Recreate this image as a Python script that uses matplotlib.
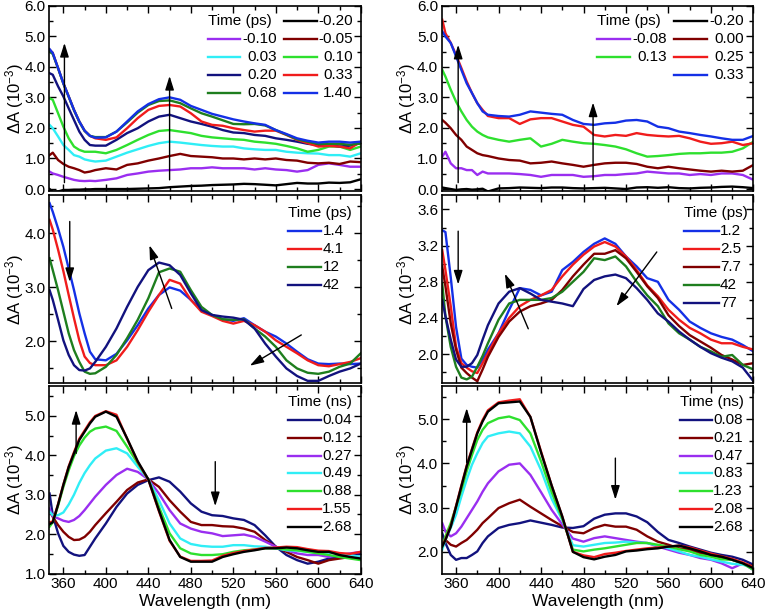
import matplotlib
matplotlib.use("Agg")
import matplotlib.pyplot as plt
from matplotlib.ticker import MultipleLocator, FormatStrFormatter

plt.rcParams["font.family"] = ["Liberation Sans", "DejaVu Sans"]
plt.rcParams["mathtext.fontset"] = "custom"
plt.rcParams["mathtext.rm"] = "Liberation Sans"
plt.rcParams["mathtext.default"] = "regular"

# wavelength grid (nm), shared by all spectra
WL = [347, 350, 355, 360, 365, 370, 375, 380, 385, 390,
      400, 410, 420, 430, 440, 450, 460, 470, 480, 490,
      500, 510, 520, 530, 540, 550, 560, 570, 580, 590,
      600, 610, 620, 630, 640]

# --- top left, early times (ps) ---
TL_LABELS = ["-0.20", "-0.10", "-0.05", "0.03", "0.10", "0.20", "0.33", "0.68", "1.40"]
TL_M020 = [0.00, -0.09, -0.08, -0.03, -0.03, -0.02, -0.02, -0.01, -0.01, 0.00,
           0.00, 0.00, 0.00, 0.01, 0.02, 0.03, 0.06, 0.08, 0.10, 0.11,
           0.13, 0.14, 0.15, 0.17, 0.16, 0.14, 0.12, 0.16, 0.20, 0.18,
           0.18, 0.21, 0.20, 0.22, 0.32]
TL_M010 = [0.57, 0.51, 0.46, 0.40, 0.35, 0.30, 0.27, 0.26, 0.27, 0.26,
           0.30, 0.35, 0.46, 0.51, 0.57, 0.60, 0.62, 0.64, 0.68, 0.68,
           0.71, 0.68, 0.68, 0.68, 0.64, 0.68, 0.64, 0.62, 0.57, 0.62,
           0.79, 0.84, 0.79, 0.73, 0.73]
TL_M005 = [1.11, 1.19, 0.95, 0.82, 0.73, 0.68, 0.62, 0.54, 0.57, 0.62,
           0.68, 0.64, 0.79, 0.84, 0.93, 1.00, 1.08, 1.15, 1.08, 1.06,
           1.04, 1.00, 1.00, 0.97, 1.00, 0.97, 1.00, 0.95, 0.93, 0.86,
           0.84, 0.86, 0.82, 0.90, 0.88]
TL_003 = [2.10, 1.99, 1.72, 1.44, 1.28, 1.11, 1.06, 0.97, 0.93, 0.90,
          0.93, 1.06, 1.19, 1.30, 1.41, 1.50, 1.55, 1.52, 1.48, 1.44,
          1.41, 1.39, 1.39, 1.33, 1.30, 1.28, 1.28, 1.22, 1.19, 1.17,
          1.16, 1.11, 1.11, 1.06, 1.17]
TL_010 = [2.97, 2.92, 2.48, 2.04, 1.66, 1.39, 1.28, 1.22, 1.22, 1.22,
          1.17, 1.28, 1.44, 1.61, 1.77, 1.90, 1.93, 1.88, 1.83, 1.74,
          1.69, 1.66, 1.63, 1.61, 1.55, 1.52, 1.48, 1.41, 1.33, 1.22,
          1.28, 1.39, 1.39, 1.28, 1.39]
TL_020 = [3.79, 3.74, 3.36, 3.03, 2.64, 2.26, 1.88, 1.61, 1.44, 1.42,
          1.42, 1.61, 1.83, 1.99, 2.21, 2.37, 2.43, 2.32, 2.21, 2.13,
          2.04, 1.93, 1.85, 1.83, 1.77, 1.74, 1.66, 1.61, 1.55, 1.48,
          1.44, 1.44, 1.39, 1.42, 1.50]
TL_033 = [4.56, 4.45, 3.96, 3.46, 3.03, 2.59, 2.21, 1.91, 1.74, 1.66,
          1.61, 1.69, 1.99, 2.32, 2.59, 2.72, 2.75, 2.70, 2.48, 2.21,
          2.10, 2.07, 1.99, 1.93, 1.88, 1.91, 1.91, 1.77, 1.61, 1.50,
          1.39, 1.41, 1.39, 1.33, 1.55]
TL_068 = [4.50, 4.42, 3.95, 3.45, 3.02, 2.58, 2.20, 1.90, 1.74, 1.70,
          1.70, 1.88, 2.18, 2.50, 2.75, 2.88, 2.90, 2.81, 2.64, 2.48,
          2.37, 2.25, 2.13, 2.12, 2.13, 2.08, 1.93, 1.78, 1.63, 1.55,
          1.48, 1.48, 1.48, 1.45, 1.50]
TL_140 = [4.58, 4.45, 3.96, 3.46, 3.03, 2.59, 2.21, 1.91, 1.74, 1.68,
          1.69, 1.88, 2.21, 2.54, 2.78, 2.94, 3.00, 2.92, 2.72, 2.59,
          2.46, 2.37, 2.28, 2.21, 2.15, 2.10, 1.93, 1.80, 1.66, 1.58,
          1.52, 1.55, 1.55, 1.52, 1.55]

# --- top right, early times (ps) ---
TR_LABELS = ["-0.20", "-0.08", "0.00", "0.13", "0.25", "0.33"]
TR_M020 = [0.05, 0.03, 0.00, -0.03, -0.01, 0.00, -0.02, -0.01, 0.01, -0.08,
           0.02, 0.03, 0.05, 0.04, 0.03, 0.05, 0.05, 0.03, 0.02, 0.03,
           0.04, 0.02, 0.00, 0.05, 0.06, 0.04, 0.06, 0.03, 0.02, 0.04,
           0.05, 0.07, 0.08, 0.06, 0.03]
TR_M008 = [1.06, 1.22, 0.84, 0.68, 0.68, 0.62, 0.62, 0.46, 0.57, 0.51,
           0.51, 0.51, 0.49, 0.46, 0.40, 0.46, 0.46, 0.46, 0.40, 0.42,
           0.46, 0.46, 0.49, 0.51, 0.57, 0.54, 0.51, 0.51, 0.46, 0.49,
           0.46, 0.51, 0.51, 0.46, 0.30]
TR_000 = [2.26, 2.17, 1.99, 1.77, 1.61, 1.39, 1.28, 1.17, 1.11, 1.08,
          1.00, 0.95, 0.93, 0.84, 0.86, 0.90, 0.84, 0.79, 0.73, 0.79,
          0.84, 0.86, 0.86, 0.82, 0.73, 0.68, 0.73, 0.68, 0.64, 0.60,
          0.57, 0.60, 0.57, 0.60, 0.79]
TR_013 = [3.90, 3.68, 3.25, 2.86, 2.54, 2.26, 2.04, 1.88, 1.77, 1.69,
          1.61, 1.55, 1.61, 1.66, 1.39, 1.48, 1.61, 1.55, 1.50, 1.48,
          1.44, 1.39, 1.30, 1.17, 1.06, 1.08, 1.11, 1.15, 1.17, 1.17,
          1.19, 1.19, 1.22, 1.33, 1.55]
TR_025 = [5.54, 5.10, 4.78, 4.39, 3.96, 3.52, 3.14, 2.81, 2.59, 2.39,
          2.32, 2.32, 2.13, 2.28, 2.32, 2.32, 2.21, 2.10, 2.04, 1.77,
          1.72, 1.77, 1.74, 1.83, 1.77, 1.74, 1.72, 1.74, 1.66, 1.55,
          1.48, 1.50, 1.55, 1.44, 1.50]
TR_033 = [5.16, 4.99, 4.78, 4.34, 3.90, 3.46, 3.14, 2.81, 2.54, 2.43,
          2.39, 2.37, 2.43, 2.54, 2.50, 2.46, 2.43, 2.26, 2.13, 2.10,
          2.15, 2.17, 2.24, 2.26, 2.21, 2.04, 1.99, 1.88, 1.83, 1.77,
          1.72, 1.66, 1.61, 1.61, 1.74]

# --- middle left (ps) ---
ML_LABELS = ["1.4", "4.1", "12", "42"]
ML_14 = [4.56, 4.40, 4.09, 3.75, 3.35, 2.95, 2.52, 2.15, 1.81, 1.67,
         1.65, 1.77, 2.02, 2.30, 2.61, 2.86, 3.00, 2.94, 2.77, 2.58,
         2.49, 2.41, 2.38, 2.43, 2.30, 2.18, 2.09, 1.96, 1.81, 1.67,
         1.59, 1.58, 1.59, 1.58, 1.59]
ML_41 = [4.25, 4.07, 3.70, 3.30, 2.86, 2.43, 2.02, 1.72, 1.60, 1.56,
         1.56, 1.65, 1.90, 2.21, 2.55, 2.86, 3.14, 3.07, 2.77, 2.55,
         2.47, 2.38, 2.33, 2.38, 2.30, 2.18, 2.02, 1.90, 1.78, 1.65,
         1.56, 1.54, 1.58, 1.62, 1.69]
ML_12 = [3.54, 3.32, 2.95, 2.55, 2.15, 1.84, 1.62, 1.44, 1.40, 1.41,
         1.53, 1.75, 2.06, 2.40, 2.80, 3.28, 3.35, 3.29, 2.95, 2.64,
         2.49, 2.41, 2.40, 2.41, 2.24, 2.09, 1.90, 1.65, 1.50, 1.42,
         1.40, 1.44, 1.53, 1.59, 1.78]
ML_42 = [2.95, 2.77, 2.40, 2.02, 1.75, 1.56, 1.47, 1.46, 1.50, 1.62,
         1.90, 2.24, 2.64, 3.01, 3.32, 3.46, 3.41, 3.23, 2.89, 2.58,
         2.49, 2.46, 2.44, 2.40, 2.24, 1.96, 1.72, 1.50, 1.36, 1.27,
         1.27, 1.36, 1.44, 1.50, 1.59]

# --- middle right (ps) ---
MR_LABELS = ["1.2", "2.5", "7.7", "42", "77"]
MR_12 = [3.37, 3.35, 2.85, 2.30, 1.95, 1.88, 1.86, 1.85, 1.94, 2.05,
         2.23, 2.49, 2.73, 2.71, 2.65, 2.69, 2.93, 3.02, 3.13, 3.22,
         3.28, 3.22, 3.08, 2.97, 2.84, 2.80, 2.60, 2.49, 2.36, 2.29,
         2.23, 2.19, 2.16, 2.10, 2.03]
MR_25 = [3.15, 2.93, 2.53, 2.08, 1.90, 1.85, 1.81, 1.79, 1.90, 2.01,
         2.23, 2.40, 2.53, 2.60, 2.65, 2.71, 2.86, 2.99, 3.10, 3.19,
         3.24, 3.19, 3.08, 2.93, 2.76, 2.64, 2.49, 2.38, 2.29, 2.23,
         2.16, 2.12, 2.12, 2.08, 2.05]
MR_77A = [2.97, 2.75, 2.34, 2.05, 1.85, 1.79, 1.74, 1.70, 1.83, 1.97,
          2.19, 2.36, 2.47, 2.53, 2.56, 2.60, 2.71, 2.86, 2.99, 3.11,
          3.11, 3.15, 3.06, 2.91, 2.75, 2.62, 2.43, 2.31, 2.21, 2.14,
          2.07, 1.99, 1.94, 1.88, 1.90]
MR_42 = [2.78, 2.42, 2.08, 1.86, 1.74, 1.72, 1.75, 1.86, 1.98, 2.12,
         2.38, 2.56, 2.60, 2.60, 2.60, 2.62, 2.69, 2.80, 2.91, 3.06,
         3.04, 3.08, 2.97, 2.80, 2.65, 2.53, 2.34, 2.23, 2.16, 2.08,
         2.03, 1.97, 1.99, 1.88, 1.83]
MR_77 = [2.60, 2.42, 2.16, 1.94, 1.86, 1.86, 1.90, 1.99, 2.16, 2.32,
         2.56, 2.69, 2.73, 2.67, 2.60, 2.58, 2.56, 2.53, 2.72, 2.82,
         2.86, 2.88, 2.84, 2.73, 2.60, 2.45, 2.36, 2.25, 2.16, 2.08,
         2.01, 1.96, 1.92, 1.85, 1.70]

# --- bottom left (ns) ---
BL_LABELS = ["0.04", "0.12", "0.27", "0.49", "0.88", "1.55", "2.68"]
BL_004 = [3.03, 2.48, 2.02, 1.70, 1.55, 1.48, 1.45, 1.47, 1.68, 1.89,
          2.27, 2.69, 3.03, 3.25, 3.37, 3.44, 3.33, 3.08, 2.78, 2.57,
          2.48, 2.46, 2.40, 2.36, 2.23, 1.97, 1.68, 1.47, 1.34, 1.25,
          1.30, 1.38, 1.42, 1.47, 1.51]
BL_012 = [2.61, 2.44, 2.23, 2.06, 1.93, 1.85, 1.86, 1.93, 2.06, 2.23,
          2.53, 2.82, 3.12, 3.31, 3.39, 3.20, 2.86, 2.57, 2.31, 2.23,
          2.23, 2.20, 2.19, 2.14, 2.06, 1.85, 1.68, 1.55, 1.42, 1.34,
          1.25, 1.34, 1.38, 1.42, 1.42]
BL_027 = [2.65, 2.45, 2.40, 2.34, 2.31, 2.36, 2.46, 2.61, 2.78, 2.95,
          3.25, 3.50, 3.66, 3.58, 3.39, 3.03, 2.61, 2.27, 2.14, 2.06,
          2.02, 1.95, 1.97, 1.99, 1.93, 1.81, 1.68, 1.59, 1.51, 1.47,
          1.47, 1.42, 1.47, 1.51, 1.55]
BL_049 = [2.57, 2.48, 2.48, 2.55, 2.75, 3.00, 3.30, 3.55, 3.75, 3.92,
          4.12, 4.18, 4.05, 3.71, 3.39, 2.86, 2.27, 1.89, 1.75, 1.70,
          1.68, 1.68, 1.72, 1.72, 1.69, 1.68, 1.64, 1.59, 1.58, 1.55,
          1.53, 1.53, 1.51, 1.47, 1.42]
BL_088 = [2.19, 2.30, 2.72, 3.20, 3.62, 3.98, 4.25, 4.45, 4.60, 4.68,
          4.73, 4.62, 4.22, 3.80, 3.39, 2.69, 2.02, 1.64, 1.51, 1.47,
          1.47, 1.49, 1.55, 1.59, 1.61, 1.64, 1.64, 1.61, 1.59, 1.55,
          1.51, 1.47, 1.42, 1.38, 1.34]
BL_155 = [2.30, 2.32, 2.76, 3.26, 3.72, 4.08, 4.42, 4.63, 4.84, 5.00,
          5.12, 5.03, 4.42, 3.83, 3.38, 2.58, 1.83, 1.43, 1.32, 1.32,
          1.33, 1.45, 1.52, 1.57, 1.61, 1.65, 1.66, 1.68, 1.67, 1.62,
          1.58, 1.57, 1.52, 1.50, 1.55]
BL_268 = [2.25, 2.30, 2.75, 3.25, 3.70, 4.05, 4.39, 4.60, 4.81, 4.98,
          5.11, 4.98, 4.43, 3.85, 3.39, 2.60, 1.85, 1.42, 1.30, 1.30,
          1.30, 1.42, 1.49, 1.55, 1.59, 1.64, 1.64, 1.66, 1.64, 1.59,
          1.55, 1.55, 1.47, 1.42, 1.38]

# --- bottom right (ns) ---
BR_LABELS = ["0.08", "0.21", "0.47", "0.83", "1.23", "2.08", "2.68"]
BR_008 = [2.42, 2.20, 1.93, 1.82, 1.86, 1.86, 1.93, 2.01, 2.20, 2.35,
          2.54, 2.61, 2.65, 2.71, 2.66, 2.61, 2.55, 2.54, 2.58, 2.75,
          2.84, 2.87, 2.87, 2.80, 2.67, 2.45, 2.27, 2.20, 2.12, 2.05,
          1.98, 1.93, 1.89, 1.82, 1.71]
BR_021 = [2.12, 2.27, 2.16, 2.12, 2.20, 2.27, 2.38, 2.50, 2.65, 2.76,
          2.99, 3.10, 3.18, 3.02, 2.87, 2.72, 2.58, 2.45, 2.42, 2.54,
          2.61, 2.57, 2.57, 2.50, 2.35, 2.23, 2.16, 2.08, 2.05, 1.97,
          1.93, 1.86, 1.82, 1.74, 1.67]
BR_047 = [2.65, 2.46, 2.35, 2.42, 2.57, 2.76, 2.95, 3.14, 3.36, 3.55,
          3.82, 3.97, 4.00, 3.74, 3.35, 2.95, 2.62, 2.30, 2.23, 2.31,
          2.35, 2.31, 2.27, 2.23, 2.20, 2.12, 2.05, 1.98, 1.93, 1.86,
          1.82, 1.74, 1.63, 1.74, 1.59]
BR_083 = [2.05, 2.27, 2.54, 2.84, 3.25, 3.63, 3.97, 4.23, 4.46, 4.61,
          4.68, 4.72, 4.68, 4.38, 3.85, 3.20, 2.72, 2.15, 2.12, 2.16,
          2.20, 2.21, 2.23, 2.21, 2.20, 2.14, 2.08, 2.01, 1.93, 1.89,
          1.83, 1.78, 1.73, 1.71, 1.63]
BR_123 = [2.12, 2.35, 2.65, 3.02, 3.40, 3.82, 4.19, 4.53, 4.76, 4.91,
          5.02, 5.06, 4.98, 4.68, 4.05, 3.35, 2.75, 2.05, 2.01, 2.05,
          2.08, 2.12, 2.16, 2.20, 2.20, 2.16, 2.12, 2.06, 2.01, 1.93,
          1.89, 1.83, 1.82, 1.74, 1.59]
BR_208 = [2.15, 2.28, 2.58, 3.04, 3.50, 3.95, 4.33, 4.70, 4.98, 5.20,
          5.38, 5.42, 5.45, 5.05, 4.27, 3.50, 2.80, 2.00, 1.92, 1.88,
          1.95, 1.98, 2.02, 2.05, 2.08, 2.10, 2.12, 2.14, 2.10, 2.03,
          1.96, 1.90, 1.84, 1.76, 1.65]
BR_268 = [2.12, 2.27, 2.57, 3.02, 3.48, 3.93, 4.31, 4.68, 4.95, 5.17,
          5.36, 5.38, 5.40, 5.05, 4.25, 3.50, 2.80, 2.00, 1.88, 1.83,
          1.89, 1.93, 2.01, 2.03, 2.06, 2.08, 2.12, 2.14, 2.08, 2.01,
          1.93, 1.89, 1.82, 1.74, 1.63]

BLACK, VIOLET, MAROON, CYAN = "#000000", "#9A2EF0", "#800000", "#30EEF6"
GREEN, NAVY, RED, DKGREEN, BLUE = "#2EE02E", "#12127E", "#F01C1C", "#1E7E1E", "#1430E6"

FS = 11
LW = 1.7


def style_axes(ax, ylim, ymaj, ymin, xlabels):
    ax.set_xlim(346.5, 640)
    ax.set_ylim(*ylim)
    ax.xaxis.set_major_locator(MultipleLocator(40))
    ax.xaxis.set_minor_locator(MultipleLocator(20))
    ax.yaxis.set_major_locator(MultipleLocator(ymaj))
    ax.yaxis.set_minor_locator(MultipleLocator(ymin))
    ax.yaxis.set_major_formatter(FormatStrFormatter("%.1f"))
    ax.tick_params(which="both", direction="in", top=True, right=True,
                   labelsize=FS, width=1.0)
    ax.tick_params(which="major", length=5, pad=2.5)
    ax.tick_params(which="minor", length=3)
    ax.tick_params(axis="x", labelbottom=xlabels)
    for s in ax.spines.values():
        s.set_linewidth(1.2)
    ax.set_ylabel(r"$\Delta$A (10$^{-3}$)", fontsize=12, va="center")
    ax.yaxis.set_label_coords(-0.112, 0.5)
    if xlabels:
        ax.set_xlabel("Wavelength (nm)", fontsize=12.5, va="center")
        ax.xaxis.set_label_coords(0.5, -0.148)


def legend_two_col(ax, title, labels, colors, cells, cols, y0, dy):
    ax.text(cols[0][0], y0, title, transform=ax.transAxes, ha="left",
            va="center", fontsize=FS)
    for lab, col, k in zip(labels, colors, cells):
        r, c = divmod(k, 2)
        x0, x1, xt = cols[c]
        y = y0 - r * dy
        ax.plot([x0, x1], [y, y], transform=ax.transAxes, color=col, lw=LW)
        ax.text(xt, y, lab, transform=ax.transAxes, ha="right", va="center",
                fontsize=FS)


def legend_one_col(ax, title, labels, colors, x0, x1, xt, y0, dy):
    ax.text(x0, y0, title, transform=ax.transAxes, ha="left", va="center",
            fontsize=FS)
    for i, (lab, col) in enumerate(zip(labels, colors)):
        y = y0 - (i + 1) * dy
        ax.plot([x0, x1], [y, y], transform=ax.transAxes, color=col, lw=LW)
        ax.text(xt, y, lab, transform=ax.transAxes, ha="left", va="center",
                fontsize=FS)


def arrow(ax, tail, head):
    ax.annotate("", xy=head, xytext=tail,
                arrowprops=dict(arrowstyle="-|>,head_length=0.7,head_width=0.22",
                                color="k", lw=1.0, mutation_scale=12,
                                shrinkA=0, shrinkB=0))


fig = plt.figure(figsize=(7.65, 6.10), dpi=100)
LX, RX, W = 0.0641, 0.5774, 0.4075
ROWS = [(0.6861, 0.3046), (0.3721, 0.3082), (0.0598, 0.3074)]

ax_tl = fig.add_axes([LX, ROWS[0][0], W, ROWS[0][1]])
ax_tr = fig.add_axes([RX, ROWS[0][0], W, ROWS[0][1]])
ax_ml = fig.add_axes([LX, ROWS[1][0], W, ROWS[1][1]])
ax_mr = fig.add_axes([RX, ROWS[1][0], W, ROWS[1][1]])
ax_bl = fig.add_axes([LX, ROWS[2][0], W, ROWS[2][1]])
ax_br = fig.add_axes([RX, ROWS[2][0], W, ROWS[2][1]])

# top left
tl_data = [TL_M020, TL_M010, TL_M005, TL_003, TL_010, TL_020, TL_033, TL_068, TL_140]
tl_cols = [BLACK, VIOLET, MAROON, CYAN, GREEN, NAVY, RED, DKGREEN, BLUE]
for y, c in zip(tl_data, tl_cols):
    ax_tl.plot(WL, y, color=c, lw=LW)
legend_two_col(ax_tl, "Time (ps)", TL_LABELS, tl_cols, range(1, 10),
               [(0.51, 0.612, 0.731), (0.753, 0.859, 0.974)], 0.919, 0.0975)
arrow(ax_tl, (361, 0.21), (361, 4.78))
arrow(ax_tl, (460, 0.30), (460, 3.70))
style_axes(ax_tl, (-0.08, 6.0), 1.0, 0.5, False)

# top right
tr_data = [TR_M020, TR_M008, TR_000, TR_013, TR_025, TR_033]
tr_cols = [BLACK, VIOLET, MAROON, GREEN, RED, BLUE]
for y, c in zip(tr_data, tr_cols):
    ax_tr.plot(WL, y, color=c, lw=LW)
legend_two_col(ax_tr, "Time (ps)", TR_LABELS, tr_cols, [1, 2, 3, 4, 5, 7],
               [(0.499, 0.604, 0.722), (0.746, 0.850, 0.970)], 0.919, 0.0975)
arrow(ax_tr, (362, 0.21), (362, 4.72))
arrow(ax_tr, (489, 0.30), (489, 2.83))
style_axes(ax_tr, (-0.08, 6.0), 1.0, 0.5, False)

# middle left
ml_data = [ML_14, ML_41, ML_12, ML_42]
ml_cols = [BLUE, RED, DKGREEN, NAVY]
for y, c in zip(ml_data, ml_cols):
    ax_ml.plot(WL, y, color=c, lw=LW)
legend_one_col(ax_ml, "Time (ps)", ML_LABELS, ml_cols, 0.767, 0.874, 0.879, 0.906, 0.096)
arrow(ax_ml, (366, 4.22), (366, 3.10))
arrow(ax_ml, (462, 2.61), (441, 3.78))
arrow(ax_ml, (584, 2.12), (535.5, 1.55))
style_axes(ax_ml, (1.23, 4.71), 1.0, 0.5, False)

# middle right
mr_data = [MR_12, MR_25, MR_77A, MR_42, MR_77]
mr_cols = [BLUE, RED, MAROON, DKGREEN, NAVY]
for y, c in zip(mr_data, mr_cols):
    ax_mr.plot(WL, y, color=c, lw=LW)
legend_one_col(ax_mr, "Time (ps)", MR_LABELS, mr_cols, 0.778, 0.888, 0.893, 0.906, 0.096)
arrow(ax_mr, (362, 3.36), (362, 2.77))
arrow(ax_mr, (428, 2.28), (406, 2.89))
arrow(ax_mr, (549, 3.13), (511, 2.53))
style_axes(ax_mr, (1.68, 3.76), 0.4, 0.2, False)

# bottom left
bl_data = [BL_004, BL_012, BL_027, BL_049, BL_088, BL_155, BL_268]
bl_cols = [NAVY, MAROON, VIOLET, CYAN, GREEN, RED, BLACK]
for y, c in zip(bl_data, bl_cols):
    ax_bl.plot(WL, y, color=c, lw=LW)
legend_one_col(ax_bl, "Time (ns)", BL_LABELS, bl_cols, 0.767, 0.874, 0.876, 0.914, 0.095)
arrow(ax_bl, (372, 4.05), (372, 5.15))
arrow(ax_bl, (503, 3.84), (503, 2.71))
style_axes(ax_bl, (1.0, 5.76), 1.0, 0.5, True)

# bottom right
br_data = [BR_008, BR_021, BR_047, BR_083, BR_123, BR_208, BR_268]
br_cols = [NAVY, MAROON, VIOLET, CYAN, GREEN, RED, BLACK]
for y, c in zip(br_data, br_cols):
    ax_br.plot(WL, y, color=c, lw=LW)
legend_one_col(ax_br, "Time (ns)", BR_LABELS, br_cols, 0.763, 0.866, 0.870, 0.914, 0.095)
arrow(ax_br, (370, 4.02), (370, 5.25))
arrow(ax_br, (510, 4.12), (510, 3.18))
style_axes(ax_br, (1.51, 5.75), 1.0, 0.5, True)

fig.savefig("out.png", dpi=100)
